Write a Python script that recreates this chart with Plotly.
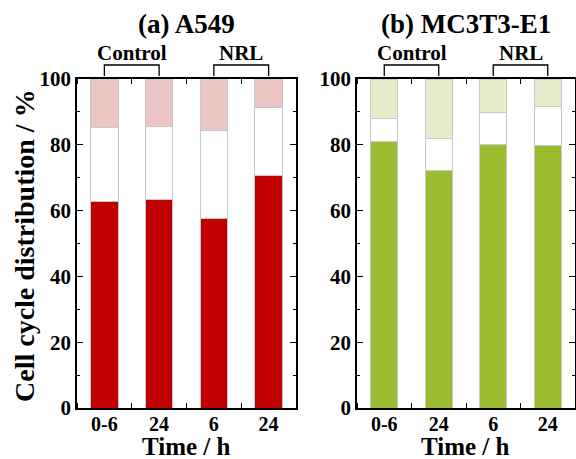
import plotly.graph_objects as go

categories = [0, 1, 2, 3]
tick_labels = ["0-6", "24", "6", "24"]
groups = ["Control", "NRL"]
group_spans = [(0, 1), (2, 3)]

a549_g1 = [62.7, 63.4, 57.6, 70.7]
a549_s = [22.5, 22.2, 26.6, 20.6]
a549_g2 = [14.8, 14.4, 15.8, 8.7]

mc_g1 = [81.1, 72.1, 80.0, 79.9]
mc_s = [6.9, 9.7, 9.8, 11.6]
mc_g2 = [12.0, 18.2, 10.2, 8.5]

titles = ["(a) A549", "(b) MC3T3-E1"]

FONT = "Times New Roman, Liberation Serif, serif"
W, H = 576, 459
xdomains = [[77 / W, 296 / W], [357 / W, 575 / W]]
ydomain = [(H - 408) / H, (H - 79) / H]

fig = go.Figure()

panels = [
    ("x", "y", a549_g1, a549_s, a549_g2, "#C00000", "#EBC4C4"),
    ("x2", "y2", mc_g1, mc_s, mc_g2, "#9BBC2F", "#E5EDCB"),
]
for xa, ya, g1, s, g2, dark, light in panels:
    for vals, col in [(g1, dark), (s, "#FFFFFF"), (g2, light)]:
        fig.add_trace(go.Bar(
            x=categories, y=vals, xaxis=xa, yaxis=ya, width=0.5,
            marker=dict(color=col, line=dict(color="#C8C8C8", width=1)),
            showlegend=False,
        ))

fig.update_layout(
    width=W, height=H, barmode="stack",
    margin=dict(l=0, r=0, t=0, b=0),
    paper_bgcolor="white", plot_bgcolor="white",
    font=dict(family=FONT, color="black"),
)

for i, (xn, yn) in enumerate([("xaxis", "yaxis"), ("xaxis2", "yaxis2")]):
    xa_ref = "x" if i == 0 else "x2"
    ya_ref = "y" if i == 0 else "y2"
    fig.layout[xn] = dict(
        domain=xdomains[i], range=[-0.5, 3.5], anchor=ya_ref, automargin=False,
        tickmode="array", tickvals=categories, ticktext=[f"<b>{t}</b>" for t in tick_labels],
        ticks="", showgrid=False, zeroline=False, ticklabelstandoff=-3,
        showline=True, linecolor="black", linewidth=1.5, mirror="ticks",
        tickfont=dict(family=FONT, size=20, color="black"),
        minor=dict(tickmode="linear", tick0=0.5, dtick=1, ticks="inside",
                   ticklen=5, tickcolor="black", tickwidth=1.3, showgrid=False),
    )
    fig.layout[yn] = dict(
        domain=ydomain, range=[0, 100], anchor=xa_ref, automargin=False,
        tickmode="array", tickvals=[0, 20, 40, 60, 80, 100],
        ticktext=[f"<b>{v}</b>" for v in [0, 20, 40, 60, 80, 100]],
        ticks="inside", ticklen=6,
        tickwidth=1.3, tickcolor="black", showgrid=False, zeroline=False,
        showline=True, linecolor="black", linewidth=1.5, mirror="ticks",
        tickfont=dict(family=FONT, size=21, color="black"),
        minor=dict(tickmode="linear", tick0=0, dtick=10, ticks="inside", ticklen=3,
                   tickwidth=1.3, tickcolor="black", showgrid=False),
    )
    xc = (xdomains[i][0] + xdomains[i][1]) / 2
    fig.add_annotation(text=f"<b>{titles[i]}</b>", x=xc, y=1 - 24 / H, xref="paper", yref="paper",
                       xanchor="center", yanchor="middle",
                       showarrow=False, font=dict(family=FONT, size=27))
    fig.add_annotation(text="<b>Time / h</b>", x=xc, y=1 - 446 / H, xref="paper", yref="paper",
                       xanchor="center", yanchor="middle",
                       showarrow=False, font=dict(family=FONT, size=25))
    for g, (a, b) in zip(groups, group_spans):
        fig.add_annotation(text=f"<b>{g}</b>", x=(a + b) / 2, xref=xa_ref, y=1 - 53 / H, yref="paper",
                           xanchor="center", yanchor="middle",
                           showarrow=False, font=dict(family=FONT, size=21))
        fig.add_shape(type="path", xref=xa_ref, yref="paper",
                      path=f"M {a},{1 - 76 / H} L {a},{1 - 65 / H} L {b},{1 - 65 / H} L {b},{1 - 76 / H}",
                      line=dict(color="black", width=1.3))

fig.add_annotation(text="<b>Cell cycle distribution / %</b>", x=24 / W, y=1 - 246 / H,
                   xref="paper", yref="paper", textangle=-90, showarrow=False,
                   xanchor="center", yanchor="middle",
                   font=dict(family=FONT, size=28))

fig.write_html("out.html")
